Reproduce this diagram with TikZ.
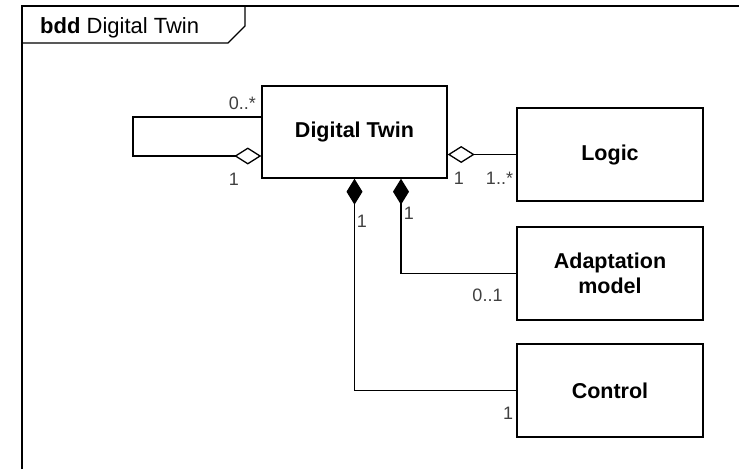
\documentclass[tikz,border=0pt]{standalone}
\usepackage{fontspec}
\setmainfont{Liberation Sans}
\usetikzlibrary{arrows.meta}
\definecolor{mult}{rgb}{0.25,0.25,0.25}
\tikzset{
  block/.style={draw, line width=1.4pt, minimum width=185pt, minimum height=92pt, inner sep=0pt, align=center, font=\fontsize{21.5}{25}\selectfont\bfseries},
  conn/.style={line width=1.3pt},
  agg/.style={conn, -{Diamond[open, length=27pt, width=17pt, line width=1.3pt]}},
  comp/.style={conn, {Diamond[length=26pt, width=16pt]}-},
  multlabel/.style={text=mult, inner sep=0pt, font=\fontsize{18}{20}\selectfont}
}
\begin{document}
\begin{tikzpicture}[x=1pt,y=-1pt]
\useasboundingbox (0,0) rectangle (739,469);
\begin{scope}
\clip (0,0) rectangle (739,469);
% frame
\draw[line width=1.8pt] (22,469) -- (22,6) -- (745,6);
\draw[line width=1.4pt] (22,43) -- (228,43) -- (245,26) -- (245,6);
\end{scope}
\node[anchor=base west, inner sep=0pt, font=\fontsize{22}{24}\selectfont] (title) at (40,33) {\textbf{bdd} Digital Twin};

\node[block] (DT) at (354.5,132) {Digital Twin};
\node[block, minimum width=186pt, minimum height=93pt] (Logic) at (610,154.5) {Logic};
\node[block, minimum width=186pt, minimum height=93pt] (Adapt) at (610,273.5) {Adaptation\\model};
\node[block, minimum width=186pt, minimum height=93pt] (Control) at (610,390.5) {Control};

% self aggregation
\coordinate (s1) at (133,117);
\coordinate (s2) at (133,156);
\draw[agg] (DT.west |- s1) -- (s1) -- (s2) -- (DT.west |- s2);
% logic aggregation
\draw[agg] (Logic.west) -- (Logic.west -| DT.east);
% adaptation composition
\coordinate (a1) at ([xshift=46.5pt]DT.south);
\draw[comp] (a1) -- (a1 |- Adapt.west) -- (Adapt.west);
% control composition
\draw[comp] (DT.south) -- (DT.south |- Control.west) -- (Control.west);

% multiplicities
\node[multlabel, anchor=base east] (m1) at (256,109) {0..*};
\node[multlabel] (m2) at (234,179) {1};
\node[multlabel] (m3) at (459,178) {1};
\node[multlabel, anchor=base] (m4) at (499.5,184) {1..*};
\node[multlabel] (m5) at (362,221) {1};
\node[multlabel] (m6) at (409,213) {1};
\node[multlabel] (m7) at (487.5,295.5) {0..1};
\node[multlabel] (m8) at (508,413) {1};
\end{tikzpicture}
\end{document}
